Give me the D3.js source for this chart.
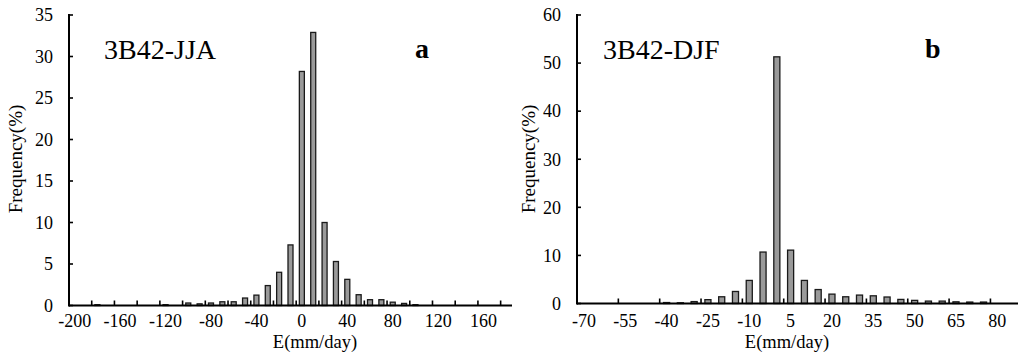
<!DOCTYPE html>
<html>
<head>
<meta charset="utf-8">
<script src="https://cdn.jsdelivr.net/npm/d3@7"></script>
<style>
  body { margin: 0; background: #fff; }
</style>
</head>
<body>
<div class="chart-div"></div>
<script>

//--------------------------- Data

var jjaBins = [-200, -190, -180, -170, -160, -150, -140, -130, -120, -110,
               -100, -90, -80, -70, -60, -50, -40, -30, -20, -10,
               0, 10, 20, 30, 40, 50, 60, 70, 80, 90,
               100, 110, 120, 130, 140, 150, 160, 170, 180];
var jjaFreq = [0, 0, 0.1, 0, 0, 0, 0, 0, 0.1, 0,
               0.3, 0.2, 0.3, 0.45, 0.45, 0.9, 1.25, 2.4, 4.0, 7.3,
               28.2, 32.9, 10.0, 5.3, 3.15, 1.3, 0.7, 0.7, 0.4, 0.25,
               0.1, 0, 0, 0, 0, 0, 0, 0, 0];
var jjaYTicks = [0, 5, 10, 15, 20, 25, 30, 35];
var jjaXLabels = [-200, -160, -120, -80, -40, 0, 40, 80, 120, 160];

var djfBins = [-70, -65, -60, -55, -50, -45, -40, -35, -30, -25,
               -20, -15, -10, -5, 0, 5, 10, 15, 20, 25,
               30, 35, 40, 45, 50, 55, 60, 65, 70, 75, 80, 85];
var djfFreq = [0, 0, 0, 0, 0, 0, 0.2, 0.15, 0.4, 0.8,
               1.4, 2.5, 4.8, 10.7, 51.3, 11.1, 4.8, 2.9, 1.95, 1.4,
               1.75, 1.6, 1.35, 0.85, 0.65, 0.5, 0.5, 0.35, 0.3, 0.3, 0, 0];
var djfYTicks = [0, 10, 20, 30, 40, 50, 60];
var djfXLabels = [-70, -55, -40, -25, -10, 5, 20, 35, 50, 65, 80];

//--------------------------- SVG definition

var width = 1024;
var height = 356;
var font = "'Liberation Serif', 'Times New Roman', serif";

var svg = d3.select("div.chart-div")
    .append("svg")
    .attr("width", width)
    .attr("height", height)

//--------------------------- One histogram panel

function panel(opt) {

    var g = svg.append("g")

    var x = d3.scaleBand()
        .domain(opt.bins)
        .range([opt.x0, opt.x1])
        .paddingInner(0.56)
        .paddingOuter(0.28);

    var y = d3.scaleLinear()
        .domain([0, opt.ymax])
        .range([opt.y0, opt.y1]);

    var step = x.step();

    // bars
    var data = opt.bins.map(function (b, i) { return { bin: b, v: opt.freq[i] }; })
        .filter(function (d) { return d.v > 0; });

    g.selectAll("rect").data(data).enter()
        .append("rect")
        .attr("x", function (d) { return x(d.bin); })
        .attr("y", function (d) { return y(d.v); })
        .attr("width", x.bandwidth())
        .attr("height", function (d) { return y(0) - y(d.v); })
        .attr("fill", "#9a9a9a")
        .attr("stroke", "#1a1a1a")
        .attr("stroke-width", 1.3);

    // x axis line and inward ticks at category boundaries
    g.append("line")
        .attr("x1", opt.x0).attr("x2", opt.x1)
        .attr("y1", y(0)).attr("y2", y(0))
        .attr("stroke", "#000").attr("stroke-width", 2);

    for (k = opt.tickEvery; k < opt.bins.length; k += opt.tickEvery) {
        g.append("line")
            .attr("x1", opt.x0 + k * step).attr("x2", opt.x0 + k * step)
            .attr("y1", y(0)).attr("y2", y(0) - 5)
            .attr("stroke", "#000").attr("stroke-width", 1.6);
    }

    g.selectAll("text.xl").data(opt.xLabels).enter()
        .append("text")
        .attr("class", "xl")
        .attr("x", function (d) { return x(d) + x.bandwidth() / 2; })
        .attr("y", 327)
        .style("text-anchor", "middle")
        .attr("font-family", font)
        .attr("font-size", 18)
        .text(function (d) { return d; });

    // y axis line with inward ticks
    g.append("line")
        .attr("x1", opt.x0).attr("x2", opt.x0)
        .attr("y1", y(0) + 1).attr("y2", y(opt.ymax) - 1)
        .attr("stroke", "#000").attr("stroke-width", 2);

    g.selectAll("line.yt").data(opt.yTicks).enter()
        .append("line")
        .attr("class", "yt")
        .attr("x1", opt.x0).attr("x2", opt.x0 + 4)
        .attr("y1", function (d) { return y(d); })
        .attr("y2", function (d) { return y(d); })
        .attr("stroke", "#000").attr("stroke-width", 1.6);

    g.selectAll("text.yl").data(opt.yTicks).enter()
        .append("text")
        .attr("class", "yl")
        .attr("x", opt.x0 - 16)
        .attr("y", function (d) { return y(d); })
        .attr("dy", "0.35em")
        .style("text-anchor", "end")
        .attr("font-family", font)
        .attr("font-size", 18)
        .text(function (d) { return d; });

    // titles
    g.append("text")
        .attr("x", opt.xTitleX)
        .attr("y", 348)
        .style("text-anchor", "middle")
        .attr("font-family", font)
        .attr("font-size", 18.5)
        .text("E(mm/day)");

    g.append("text")
        .attr("transform", "translate(" + opt.yTitleX + ",159) rotate(-90)")
        .style("text-anchor", "middle")
        .attr("font-family", font)
        .attr("font-size", 19)
        .text("Frequency(%)");

    g.append("text")
        .attr("x", opt.nameX)
        .attr("y", 59)
        .attr("font-family", font)
        .attr("font-size", 28)
        .text(opt.name);

    g.append("text")
        .attr("x", opt.letterX)
        .attr("y", 58)
        .attr("font-family", font)
        .attr("font-size", 28)
        .attr("font-weight", "bold")
        .text(opt.letter);
}

panel({
    bins: jjaBins, freq: jjaFreq, yTicks: jjaYTicks, xLabels: jjaXLabels,
    x0: 69, x1: 512, y0: 305.5, y1: 15, ymax: 35, tickEvery: 2,
    xTitleX: 315, yTitleX: 22, name: "3B42-JJA", nameX: 104,
    letter: "a", letterX: 415
});

panel({
    bins: djfBins, freq: djfFreq, yTicks: djfYTicks, xLabels: djfXLabels,
    x0: 577, x1: 1018, y0: 303.5, y1: 15, ymax: 60, tickEvery: 3,
    xTitleX: 787, yTitleX: 535, name: "3B42-DJF", nameX: 603,
    letter: "b", letterX: 925
});

</script>
</body>
</html>
